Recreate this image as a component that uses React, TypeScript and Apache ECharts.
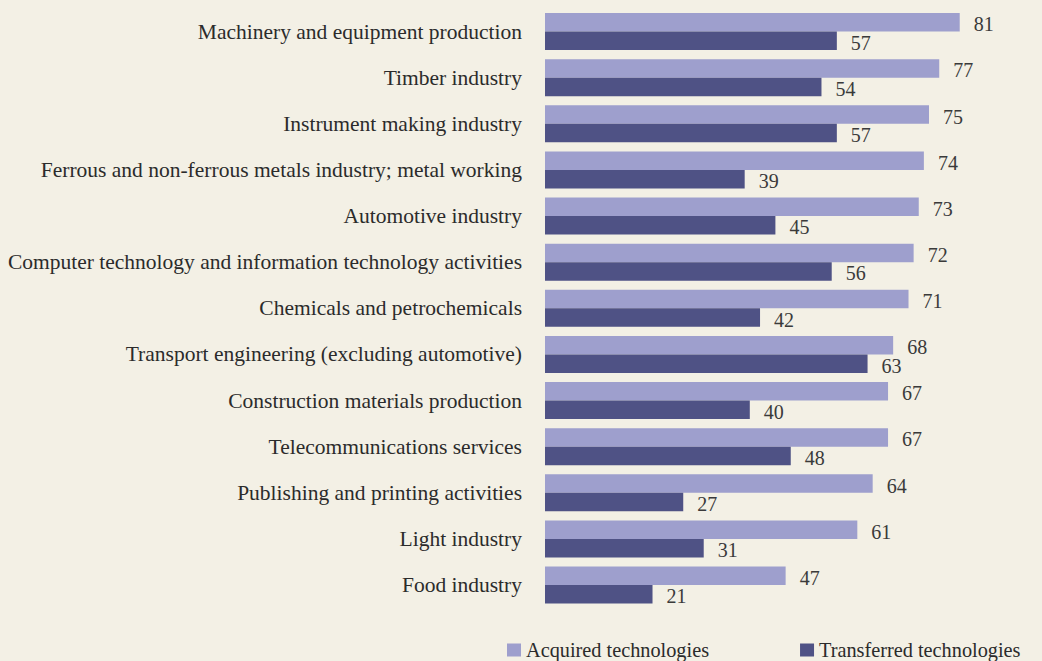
import React, { useEffect, useRef } from "react";
import * as echarts from "echarts";

const categories = [
  "Machinery and equipment production",
  "Timber industry",
  "Instrument making industry",
  "Ferrous and non-ferrous metals industry; metal working",
  "Automotive industry",
  "Computer technology and information technology activities",
  "Chemicals and petrochemicals",
  "Transport engineering (excluding automotive)",
  "Construction materials production",
  "Telecommunications services",
  "Publishing and printing activities",
  "Light industry",
  "Food industry",
];
const acquired = [81, 77, 75, 74, 73, 72, 71, 68, 67, 67, 64, 61, 47];
const transferred = [57, 54, 57, 39, 45, 56, 42, 63, 40, 48, 27, 31, 21];
const seriesNames = ["Acquired technologies", "Transferred technologies"];

const BG = "#f3f0e5";
const FONT = "Liberation Serif";

export default function App() {
  const ref = useRef<HTMLDivElement>(null);
  useEffect(() => {
    document.body.style.margin = "0";
    document.body.style.background = BG;
    const chart = echarts.init(ref.current!, null, { renderer: "svg" });
    const labelStyle = {
      show: true,
      position: "right" as const,
      distance: 14,
      color: "#3a3a3a",
      fontFamily: FONT,
      fontSize: 20,
      offset: [0, 2],
    };
    chart.setOption({
      animation: false,
      backgroundColor: BG,
      textStyle: { fontFamily: FONT },
      grid: { left: 545, top: 8.5, width: 460.8, height: 599.6, containLabel: false },
      xAxis: {
        type: "value",
        min: 0,
        max: 90,
        show: false,
        splitLine: { show: false },
      },
      yAxis: {
        type: "category",
        data: categories,
        inverse: true,
        axisLine: { show: false },
        axisTick: { show: false },
        axisLabel: {
          margin: 23,
          color: "#2b2b2b",
          fontFamily: FONT,
          fontSize: 21.5,
        },
      },
      legend: {
        left: 502,
        top: 635,
        icon: "rect",
        itemWidth: 14,
        itemHeight: 13,
        itemGap: 91,
        textStyle: { color: "#2b2b2b", fontFamily: FONT, fontSize: 20.3, padding: [0, 0, 0, 0] },
        data: seriesNames,
      },
      series: [
        {
          name: seriesNames[0],
          type: "bar",
          data: acquired,
          barWidth: 18.5,
          barGap: "0%",
          itemStyle: { color: "#9e9fcd" },
          label: labelStyle,
        },
        {
          name: seriesNames[1],
          type: "bar",
          data: transferred,
          barWidth: 18.5,
          barGap: "0%",
          itemStyle: { color: "#4f5285" },
          label: labelStyle,
        },
      ],
    });
    return () => chart.dispose();
  }, []);
  return <div ref={ref} style={{ width: 1042, height: 661, background: BG }} />;
}
